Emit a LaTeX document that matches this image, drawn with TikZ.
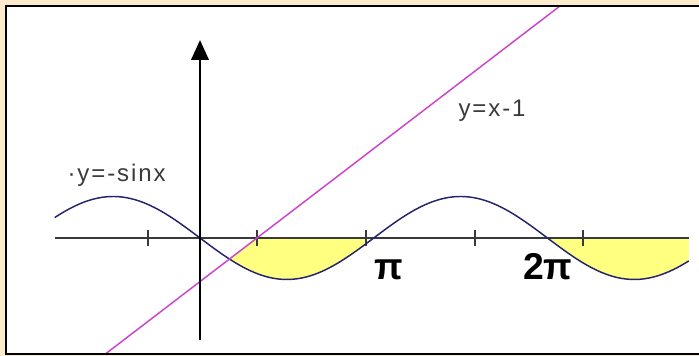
\documentclass[tikz,border=0pt]{standalone}
\usepackage{fontspec}
\setmainfont{Liberation Sans}
\usetikzlibrary{arrows.meta}
\definecolor{gfcream}{HTML}{FCEBCC}
\definecolor{gfyellow}{HTML}{FFFF80}
\definecolor{gfnavy}{HTML}{23236E}
\definecolor{gfpink}{HTML}{CC44CC}
\definecolor{gfgray}{HTML}{3A3A3A}
\tikzset{
  axisline/.style={draw=gfgray, line width=1.5pt},
  vaxis/.style={-{Triangle[length=15pt,width=13pt]}, draw=black, line width=2.2pt},
  tickmark/.style={draw=gfgray, line width=1.1pt},
  sinecurve/.style={draw=gfnavy, line width=1.1pt},
  linecurve/.style={draw=gfpink, line width=1.1pt},
  shade/.style={fill=gfyellow},
  framebox/.style={draw=black, fill=white, line width=1.9pt},
  graphlabel/.style={font=\fontsize{18}{20}\selectfont\addfontfeatures{LetterSpace=8},
    text=gfgray, inner sep=0pt, anchor=base west},
  ticklabel/.style={font=\fontsize{28}{30}\selectfont\bfseries, text=black,
    inner sep=0pt, anchor=base}
}

\begin{document}
\begin{tikzpicture}[x=41.475pt, y=31.125pt]
    \useasboundingbox (-3.617,-2.843) rectangle (9.024,5.735);
    \fill[gfcream] (-3.617,-2.843) rectangle (9.024,5.735);
    \filldraw[framebox] (-3.508,-2.795) rectangle (9.2,5.59);

    % shaded parts
    \fill[shade] (1.03,0) -- (3,0) -- plot[domain=3:0.532, samples=40] (\x,{-sin(\x r)}) -- cycle;
    \fill[shade] (6.283,0) -- (8.84,0) -- plot[domain=8.84:6.283, samples=40] (\x,{-sin(\x r)}) -- cycle;

    \coordinate (xleft) at (-2.627,0);
    \coordinate (xright) at (8.84,0);
    \coordinate (ybottom) at (0,-2.458);
    \coordinate (ytop) at (0,4.771);
    \coordinate (lstart) at (-1.71,-2.795);
    \coordinate (lend) at (6.51,5.59);

    \draw[axisline] (xleft) -- (xright);
    \foreach \t in {-0.94,1.03,3.0,4.97,6.93}
        \draw[tickmark] (\t,0.19) -- (\t,-0.2);
    \draw[sinecurve] plot[domain=-2.627:8.84, samples=160, smooth] (\x,{-sin(\x r)});
    \draw[linecurve] (lstart) -- (lend);
    \draw[vaxis] (ybottom) -- (ytop);
    \draw[framebox, fill=none] (-3.508,-2.795) rectangle (9.2,5.59);

    \node[graphlabel] (sinelabel) at (-2.40,1.35) {·y=-sinx};
    \node[graphlabel] (linelabel) at (4.67,2.92) {y=x-1};
    \node[ticklabel] (pilabel) at (3.42,-0.99) {π};
    \node[ticklabel] (twopilabel) at (6.29,-0.99) {2π};
\end{tikzpicture}
\end{document}
